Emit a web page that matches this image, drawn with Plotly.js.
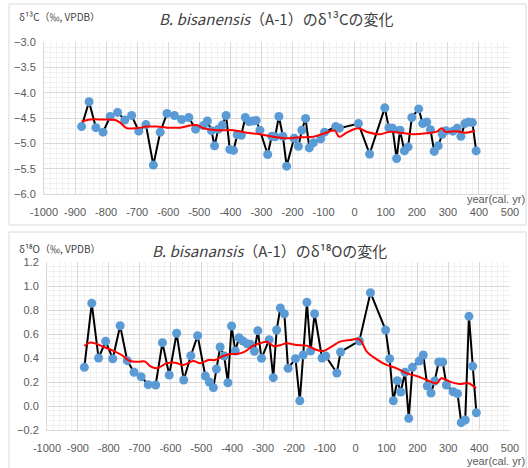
<!DOCTYPE html>
<html>
<head>
<meta charset="utf-8">
<script src="https://cdn.plot.ly/plotly-3.0.1.min.js"></script>
<style>html,body{margin:0;padding:0;background:#fff;}#chart{width:528px;height:468px;}</style>
</head>
<body>
<div id="chart"></div>
<script>
// Sample ages (cal. yr)
const years = [-879,-855,-833,-810,-787,-763,-740,-718,-695,-672,-648,-626,-604,-580,-557,-534,-512,-487,-474,-461,
  -451,-439,-426,-414,-402,-390,-378,-365,-352,-340,-328,-317,-305,-280,-267,-256,-244,-231,-219,-195,
  -181,-170,-158,-146,-133,-109,-97,-61,-49,12,48,97,110,122,135,146,160,172,184,206,
  219,232,244,256,269,282,294,316,330,342,355,367,379,391];

// δ13C (‰, VPDB)
const d13C = [-4.67,-4.18,-4.69,-4.78,-4.47,-4.39,-4.54,-4.45,-4.76,-4.63,-5.43,-4.78,-4.41,-4.45,-4.53,-4.49,-4.72,-4.65,-4.56,-4.75,
  -5.05,-4.72,-4.64,-4.45,-5.12,-5.14,-4.83,-4.84,-4.49,-4.57,-4.56,-4.55,-4.74,-5.22,-4.86,-4.87,-4.47,-4.86,-5.45,-4.90,
  -5.06,-4.74,-4.51,-5.09,-4.99,-4.91,-4.78,-4.67,-4.70,-4.61,-5.21,-4.30,-4.69,-4.70,-5.30,-4.74,-5.15,-5.07,-4.49,-4.32,
  -4.61,-4.58,-4.73,-5.16,-5.05,-4.82,-4.75,-4.76,-4.70,-4.86,-4.61,-4.58,-4.59,-5.15];

// δ18O (‰, VPDB)
const d18O = [0.322,0.856,0.400,0.539,0.394,0.669,0.378,0.281,0.244,0.178,0.175,0.528,0.258,0.606,0.217,0.419,0.586,0.250,0.200,0.153,
  0.308,0.492,0.417,0.194,0.667,0.458,0.569,0.542,0.519,0.514,0.456,0.628,0.397,0.553,0.236,0.633,0.817,0.769,0.314,0.394,
  0.044,0.425,0.864,0.458,0.769,0.400,0.417,0.275,0.450,0.542,0.944,0.633,0.394,0.044,0.211,0.117,0.281,-0.103,0.322,0.375,
  0.425,0.167,0.108,0.208,0.367,0.367,0.175,0.119,0.103,-0.139,-0.117,0.747,0.331,-0.056];

// Moving-average (red) curves
const maYears13 = [-879,-852,-809,-771,-753,-734,-702,-669,-637,-605,-562,-530,-509,-487,-444,-391,-348,-305,-262,-219,
  -176,-133,-96,-64,-50,-26,11,38,81,114,146,189,232,264,280,291,328,355,387];
const ma13 = [-4.57,-4.53,-4.53,-4.54,-4.60,-4.70,-4.70,-4.67,-4.67,-4.69,-4.69,-4.65,-4.64,-4.70,-4.74,-4.74,-4.79,-4.82,-4.87,-4.90,
  -4.88,-4.87,-4.80,-4.75,-4.87,-4.79,-4.70,-4.77,-4.82,-4.77,-4.79,-4.82,-4.80,-4.77,-4.70,-4.77,-4.76,-4.79,-4.75];

const maYears18 = [-879,-861,-839,-818,-785,-758,-731,-704,-683,-666,-645,-612,-585,-558,-526,-504,-477,-456,-429,-407,
  -386,-359,-332,-310,-288,-267,-245,-224,-191,-159,-126,-105,-78,-51,-18,12,36,68,100,133,
  165,197,230,262,278,305,338,365,390];
const ma18 = [0.500,0.528,0.517,0.494,0.460,0.425,0.375,0.369,0.372,0.333,0.314,0.356,0.361,0.342,0.375,0.356,0.383,0.383,0.417,0.433,
  0.433,0.453,0.503,0.522,0.536,0.500,0.506,0.522,0.508,0.503,0.467,0.458,0.494,0.536,0.550,0.556,0.453,0.389,0.342,0.314,
  0.272,0.250,0.217,0.190,0.231,0.203,0.183,0.190,0.147];

const xTicks = [-1000,-900,-800,-700,-600,-500,-400,-300,-200,-100,0,100,200,300,400,500];

const W = 528, H = 468;
const px = v => v / W;
const py = v => 1 - v / H;

const tickFont = {family: 'Liberation Sans, Arial, sans-serif', size: 11, color: '#595959'};
const gridC = '#d9d9d9', minorC = '#f0f0f0';

function xAxis(domain, anchor) {
  return {domain, anchor, range: [-1000, 500], tickvals: xTicks, ticktext: xTicks.map(String),
    showgrid: true, gridcolor: gridC, gridwidth: 1, zeroline: false,
    showline: true, linecolor: gridC, ticks: '', ticklabelstandoff: 8, tickfont: tickFont,
    minor: {dtick: 20, tick0: -1000, showgrid: true, gridcolor: minorC, gridwidth: 1},
    fixedrange: true};
}
function yAxis(domain, anchor, range, dtick, minor) {
  return {domain, anchor, range, dtick, tick0: range[0], tickformat: '.1f',
    showgrid: true, gridcolor: gridC, gridwidth: 1, zeroline: false,
    showline: true, linecolor: gridC, ticks: '', ticklabelstandoff: 5, tickfont: tickFont,
    minor: {dtick: minor, tick0: range[0], showgrid: true, gridcolor: minorC, gridwidth: 1},
    fixedrange: true};
}

const traces = [
  {x: years, y: d13C, xaxis: 'x', yaxis: 'y', type: 'scatter', mode: 'lines+markers',
   line: {color: '#000000', width: 2}, marker: {color: '#5b9bd5', size: 9}},
  {x: maYears13, y: ma13, xaxis: 'x', yaxis: 'y', type: 'scatter', mode: 'lines',
   line: {color: '#ff0000', width: 2, shape: 'spline'}},
  {x: years, y: d18O, xaxis: 'x2', yaxis: 'y2', type: 'scatter', mode: 'lines+markers',
   line: {color: '#000000', width: 2}, marker: {color: '#5b9bd5', size: 9}},
  {x: maYears18, y: ma18, xaxis: 'x2', yaxis: 'y2', type: 'scatter', mode: 'lines',
   line: {color: '#ff0000', width: 2, shape: 'spline'}}
];

const cjk = 'Noto Sans CJK JP, Noto Sans, sans-serif';
const titleFont = {family: cjk, size: 15, color: '#404040'};
const labFont = {family: cjk, size: 10, color: '#404040'};
const yrFont = {family: 'Liberation Sans, Arial, sans-serif', size: 11, color: '#595959'};

const layout = {
  width: W, height: H,
  margin: {l: 0, r: 0, t: 0, b: 0},
  paper_bgcolor: '#ffffff', plot_bgcolor: '#ffffff',
  showlegend: false,
  xaxis: xAxis([px(44), px(510)], 'y'),
  yaxis: yAxis([py(194), py(42)], 'x', [-6.0, -3.0], 0.5, 0.1),
  xaxis2: xAxis([px(47), px(510)], 'y2'),
  yaxis2: yAxis([py(430), py(262)], 'x2', [-0.2, 1.2], 0.2, 0.04),
  shapes: [
    {type: 'rect', xref: 'paper', yref: 'paper', x0: px(9), x1: px(526), y0: py(225), y1: py(4),
     line: {color: '#d9d9d9', width: 1}},
    {type: 'rect', xref: 'paper', yref: 'paper', x0: px(9), x1: px(526), y0: py(470), y1: py(232),
     line: {color: '#d9d9d9', width: 1}}
  ],
  annotations: [
    {xref: 'paper', yref: 'paper', x: px(157), y: py(19), xanchor: 'left', yanchor: 'middle', showarrow: false,
     text: '<i>B. bisanensis</i>（A-1）のδ¹³Cの変化', font: titleFont},
    {xref: 'paper', yref: 'paper', x: px(17), y: py(17), xanchor: 'left', yanchor: 'middle', showarrow: false,
     text: 'δ¹³C（‰, VPDB）', font: labFont},
    {xref: 'paper', yref: 'paper', x: px(527), y: py(199), xanchor: 'right', yanchor: 'middle', showarrow: false,
     text: 'year(cal. yr)', font: yrFont},
    {xref: 'paper', yref: 'paper', x: px(150), y: py(250), xanchor: 'left', yanchor: 'middle', showarrow: false,
     text: '<i>B. bisanansis</i>（A-1）のδ¹⁸Oの変化', font: titleFont},
    {xref: 'paper', yref: 'paper', x: px(17), y: py(248), xanchor: 'left', yanchor: 'middle', showarrow: false,
     text: 'δ¹⁸O（‰, VPDB）', font: labFont},
    {xref: 'paper', yref: 'paper', x: px(527), y: py(461), xanchor: 'right', yanchor: 'middle', showarrow: false,
     text: 'year(cal. yr)', font: yrFont}
  ]
};

Plotly.newPlot('chart', traces, layout, {displayModeBar: false, staticPlot: true});
</script>
</body>
</html>
